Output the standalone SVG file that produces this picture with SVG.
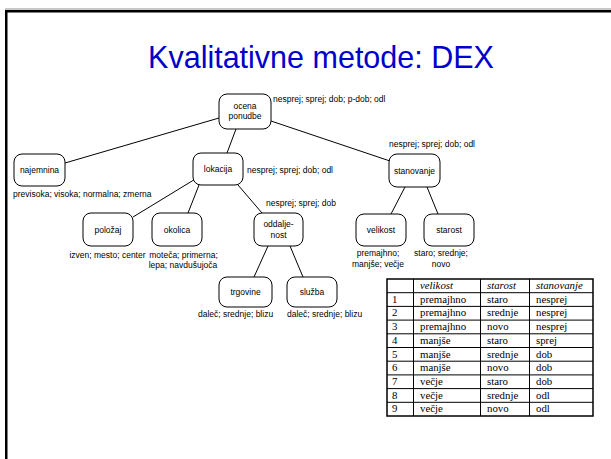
<svg xmlns="http://www.w3.org/2000/svg" width="611" height="459" viewBox="0 0 611 459">
<style>
.node rect{fill:#fff;stroke:#000;stroke-width:1}
.nt{font-family:"Liberation Sans",Arial,sans-serif;font-size:8.5px;fill:#000;text-anchor:middle}
.lb{font-family:"Liberation Sans",Arial,sans-serif;font-size:8.5px;fill:#000}
.lbc{font-family:"Liberation Sans",Arial,sans-serif;font-size:8.5px;fill:#000;text-anchor:middle}
#edges line{stroke:#000;stroke-width:1}
.tb{font-family:"Liberation Serif","Times New Roman",serif;font-size:10.8px;fill:#000}
.th{font-style:italic}
#table line{stroke:#000;stroke-width:1}
</style>
<rect x="0" y="0" width="611" height="459" fill="#fff"/>
<!-- slide frame -->
<rect x="5" y="8" width="606" height="2" fill="#c8c8c8"/>
<rect x="5" y="10" width="606" height="2.5" fill="#000"/>
<rect x="5" y="10" width="2.5" height="449" fill="#000"/>
<text x="321" y="68" font-family="'Liberation Sans',Arial,sans-serif" font-size="30.5" fill="#0000cc" text-anchor="middle">Kvalitativne metode: DEX</text>
<g id="edges">
<line x1="219" y1="118" x2="65" y2="163"/>
<line x1="236" y1="129" x2="227" y2="153"/>
<line x1="271" y1="121" x2="390" y2="161"/>
<line x1="197" y1="178" x2="133" y2="217"/>
<line x1="199" y1="185" x2="188" y2="213"/>
<line x1="238" y1="185" x2="262" y2="213"/>
<line x1="268" y1="246" x2="254" y2="277"/>
<line x1="290" y1="246" x2="303" y2="277"/>
<line x1="405" y1="187" x2="391" y2="214"/>
<line x1="427" y1="187" x2="438" y2="214"/>
</g>
<g id="ocena" class="node">
<rect x="219" y="94" width="52" height="35" rx="8"/>
<text class="nt" x="245" y="108.5">ocena</text>
<text class="nt" x="245" y="119">ponudbe</text>
<text class="lb" x="273" y="102">nesprej; sprej; dob; p-dob; odl</text>
</g>
<g id="najemnina" class="node">
<rect x="14" y="154" width="51" height="32" rx="8"/>
<text class="nt" x="39.5" y="173">najemnina</text>
<text class="lb" x="13" y="197">previsoka; visoka; normalna; zmerna</text>
</g>
<g id="lokacija" class="node">
<rect x="193" y="153" width="50" height="32" rx="8"/>
<text class="nt" x="218" y="172">lokacija</text>
<text class="lb" x="247" y="173">nesprej; sprej; dob; odl</text>
</g>
<g id="stanovanje" class="node">
<rect x="389" y="154" width="51" height="33" rx="8"/>
<text class="nt" x="414.5" y="173.5">stanovanje</text>
<text class="lb" x="389" y="147">nesprej; sprej; dob; odl</text>
</g>
<g id="polozaj" class="node">
<rect x="83" y="213" width="50" height="33" rx="8"/>
<text class="nt" x="108" y="232.5">položaj</text>
<text class="lbc" x="107.5" y="258">izven; mesto; center</text>
</g>
<g id="okolica" class="node">
<rect x="152" y="213" width="50" height="33" rx="8"/>
<text class="nt" x="177" y="232.5">okolica</text>
<text class="lbc" x="183.5" y="258">moteča; primerna;</text>
<text class="lbc" x="183" y="268">lepa; navdušujoča</text>
</g>
<g id="oddaljenost" class="node">
<rect x="254" y="213" width="49" height="33" rx="8"/>
<text class="nt" x="278.5" y="226.5">oddalje-</text>
<text class="nt" x="278.5" y="237.5">nost</text>
<text class="lb" x="266" y="206">nesprej; sprej; dob</text>
</g>
<g id="velikost" class="node">
<rect x="356" y="214" width="50" height="32" rx="8"/>
<text class="nt" x="381" y="233">velikost</text>
<text class="lbc" x="378" y="256">premajhno;</text>
<text class="lbc" x="378" y="267">manjše; večje</text>
</g>
<g id="starost" class="node">
<rect x="424" y="214" width="50" height="32" rx="8"/>
<text class="nt" x="449" y="233">starost</text>
<text class="lbc" x="441" y="256">staro; srednje;</text>
<text class="lbc" x="441" y="267">novo</text>
</g>
<g id="trgovine" class="node">
<rect x="219" y="277" width="53" height="30" rx="8"/>
<text class="nt" x="245.5" y="295">trgovine</text>
<text class="lb" x="198" y="317">daleč; srednje; blizu</text>
</g>
<g id="sluzba" class="node">
<rect x="287" y="277" width="50" height="30" rx="8"/>
<text class="nt" x="312" y="295">služba</text>
<text class="lb" x="287" y="317">daleč; srednje; blizu</text>
</g>
<g id="table">
<rect x="387" y="279" width="206" height="137" fill="#fff" stroke="#000" stroke-width="1.5"/>
<line x1="413.5" y1="279" x2="413.5" y2="416"/>
<line x1="480.5" y1="279" x2="480.5" y2="416"/>
<line x1="529.5" y1="279" x2="529.5" y2="416"/>
<line x1="387" y1="292.7" x2="593" y2="292.7"/>
<line x1="387" y1="306.4" x2="593" y2="306.4"/>
<line x1="387" y1="320.1" x2="593" y2="320.1"/>
<line x1="387" y1="333.8" x2="593" y2="333.8"/>
<line x1="387" y1="347.5" x2="593" y2="347.5"/>
<line x1="387" y1="361.2" x2="593" y2="361.2"/>
<line x1="387" y1="374.9" x2="593" y2="374.9"/>
<line x1="387" y1="388.6" x2="593" y2="388.6"/>
<line x1="387" y1="402.3" x2="593" y2="402.3"/>
<g class="tb">
<text class="th" x="420" y="289">velikost</text><text class="th" x="487" y="289">starost</text><text class="th" x="536" y="289">stanovanje</text>
<text x="392" y="302.7">1</text><text x="420" y="302.7">premajhno</text><text x="487" y="302.7">staro</text><text x="536" y="302.7">nesprej</text>
<text x="392" y="316.4">2</text><text x="420" y="316.4">premajhno</text><text x="487" y="316.4">srednje</text><text x="536" y="316.4">nesprej</text>
<text x="392" y="330.1">3</text><text x="420" y="330.1">premajhno</text><text x="487" y="330.1">novo</text><text x="536" y="330.1">nesprej</text>
<text x="392" y="343.8">4</text><text x="420" y="343.8">manjše</text><text x="487" y="343.8">staro</text><text x="536" y="343.8">sprej</text>
<text x="392" y="357.5">5</text><text x="420" y="357.5">manjše</text><text x="487" y="357.5">srednje</text><text x="536" y="357.5">dob</text>
<text x="392" y="371.2">6</text><text x="420" y="371.2">manjše</text><text x="487" y="371.2">novo</text><text x="536" y="371.2">dob</text>
<text x="392" y="384.9">7</text><text x="420" y="384.9">večje</text><text x="487" y="384.9">staro</text><text x="536" y="384.9">dob</text>
<text x="392" y="398.6">8</text><text x="420" y="398.6">večje</text><text x="487" y="398.6">srednje</text><text x="536" y="398.6">odl</text>
<text x="392" y="412.3">9</text><text x="420" y="412.3">večje</text><text x="487" y="412.3">novo</text><text x="536" y="412.3">odl</text>
</g>
</g>
</svg>
